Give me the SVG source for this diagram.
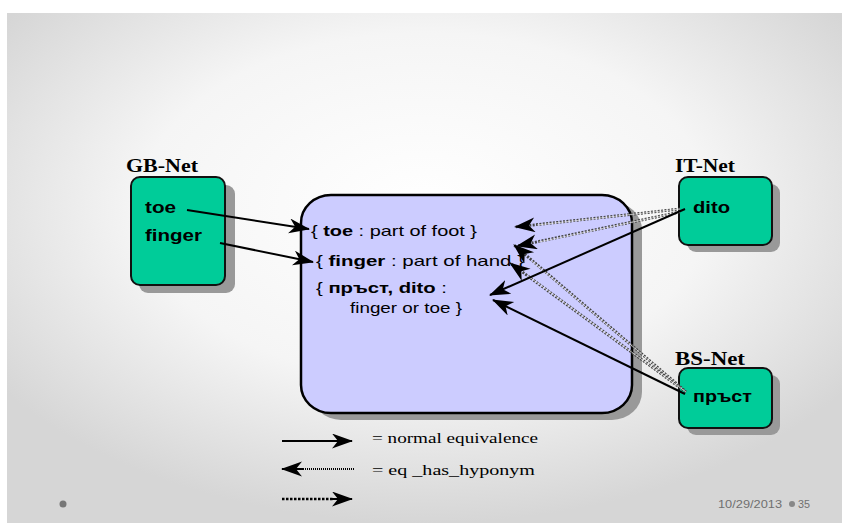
<svg xmlns="http://www.w3.org/2000/svg" width="842" height="523" viewBox="0 0 842 523">
  <defs>
    <radialGradient id="slideBg" cx="50%" cy="38%" r="62%">
      <stop offset="0" stop-color="#ffffff"/>
      <stop offset="0.55" stop-color="#f5f5f5"/>
      <stop offset="1" stop-color="#d6d6d6"/>
    </radialGradient>
    <marker id="head" markerUnits="userSpaceOnUse" markerWidth="24" markerHeight="16" refX="20" refY="7.5" orient="auto">
      <path d="M0,0 L21,7.5 L0,15 L6,7.5 Z" fill="#000"/>
    </marker>
  </defs>
  <style>
    .net { fill: #00cc99; stroke: #111; stroke-width: 2; }
    .shadow { fill: #999; }
    .netLabel { font-family: "Liberation Serif", serif; font-weight: bold; font-size: 18px; fill: #000; }
    .word { font-family: "Liberation Sans", Arial, sans-serif; font-weight: bold; font-size: 16px; fill: #000; }
    .synset { font-family: "Liberation Sans", Arial, sans-serif; font-size: 15px; fill: #000; }
    .synset .b { font-weight: bold; }
    .legend { font-family: "Liberation Serif", serif; font-size: 14px; fill: #000; }
    .footer { font-family: "Liberation Sans", Arial, sans-serif; font-size: 11px; fill: #707070; }
    .eq { fill: none; stroke: #000; stroke-width: 2; }
    .hypo { fill: none; stroke: #444; stroke-width: 2.8; stroke-dasharray: 2 1.4; }
    .hypoCore { fill: none; stroke: #eee; stroke-width: 0.7; }
  </style>

  <!-- slide background -->
  <rect x="0" y="0" width="842" height="523" fill="#ffffff"/>
  <rect x="7" y="13" width="835" height="510" fill="url(#slideBg)"/>

  <!-- central synset container -->
  <g id="synsets">
    <rect class="shadow" x="311" y="202" width="331" height="218" rx="30" ry="28"/>
    <rect x="301" y="195" width="331" height="218" rx="30" ry="28" fill="#ccccff" stroke="#000" stroke-width="2.5"/>
    <text class="synset" x="311" y="236" textLength="166" lengthAdjust="spacingAndGlyphs">{ <tspan class="b">toe</tspan> : part of foot }</text>
    <text class="synset" x="316" y="266" textLength="208" lengthAdjust="spacingAndGlyphs">{ <tspan class="b">finger</tspan>  : part of hand }</text>
    <text class="synset" x="316" y="293" textLength="131" lengthAdjust="spacingAndGlyphs">{ <tspan class="b">пръст, dito</tspan> :</text>
    <text class="synset" x="350" y="313" textLength="112" lengthAdjust="spacingAndGlyphs">finger or toe }</text>
  </g>

  <!-- GB-Net -->
  <g id="gb-net">
    <text class="netLabel" x="126" y="172" textLength="72" lengthAdjust="spacingAndGlyphs">GB-Net</text>
    <rect class="shadow" x="139" y="185" width="96" height="108" rx="9"/>
    <rect class="net" x="131" y="177" width="94" height="108" rx="9"/>
    <text class="word" x="145" y="213" textLength="31" lengthAdjust="spacingAndGlyphs">toe</text>
    <text class="word" x="145" y="241" textLength="57" lengthAdjust="spacingAndGlyphs">finger</text>
  </g>

  <!-- IT-Net -->
  <g id="it-net">
    <text class="netLabel" x="675" y="172" textLength="60" lengthAdjust="spacingAndGlyphs">IT-Net</text>
    <rect class="shadow" x="687" y="184" width="93" height="68" rx="9"/>
    <rect class="net" x="679" y="177" width="93" height="68" rx="9"/>
    <text class="word" x="693" y="213" textLength="37" lengthAdjust="spacingAndGlyphs">dito</text>
  </g>

  <!-- BS-Net -->
  <g id="bs-net">
    <text class="netLabel" x="675" y="365" textLength="70" lengthAdjust="spacingAndGlyphs">BS-Net</text>
    <rect class="shadow" x="687" y="375" width="93" height="60" rx="9"/>
    <rect class="net" x="679" y="368" width="93" height="60" rx="9"/>
    <text class="word" x="693" y="402" textLength="59" lengthAdjust="spacingAndGlyphs">пръст</text>
  </g>

  <!-- connectors -->
  <g id="connectors">
    <!-- eq_has_hyponym links -->
    <path class="hypo" d="M680,209 L515,227" marker-end="url(#head)"/>
    <path class="hypoCore" d="M680,209 L537,225"/>
    <path class="hypo" d="M680,212 L517,246" marker-end="url(#head)"/>
    <path class="hypoCore" d="M680,212 L539,242"/>
    <path class="hypo" d="M684,390 L514,245" marker-end="url(#head)"/>
    <path class="hypoCore" d="M684,390 L532,261"/>
    <path class="hypo" d="M686,392 L510,263" marker-end="url(#head)"/>
    <path class="hypoCore" d="M686,392 L528,276"/>

    <!-- normal equivalence links -->
    <path class="eq" d="M187,210 L309,229" marker-end="url(#head)"/>
    <path class="eq" d="M220,243 L313,262" marker-end="url(#head)"/>
    <path class="eq" d="M685,209 L490,295" marker-end="url(#head)"/>
    <path class="eq" d="M685,394 L493,300" marker-end="url(#head)"/>
  </g>

  <!-- legend -->
  <g id="legend">
    <path class="eq" d="M282,441 L352,441" marker-end="url(#head)"/>
    <text class="legend" x="372" y="443" textLength="166" lengthAdjust="spacingAndGlyphs">= normal equivalence</text>
    <path d="M354,469 L298,469" fill="none" stroke="#000" stroke-width="2" stroke-dasharray="1 1"/>
    <path d="M303,469 L282,469" class="eq" stroke-width="1" marker-end="url(#head)"/>
    <text class="legend" x="372" y="475" textLength="163" lengthAdjust="spacingAndGlyphs">=  eq _has_hyponym</text>
    <path d="M282,499 L334,499" fill="none" stroke="#000" stroke-width="2.5" stroke-dasharray="2.5 1.5"/>
    <path d="M330,499 L352,499" class="eq" stroke-width="1" marker-end="url(#head)"/>
  </g>

  <!-- footer -->
  <g id="footer">
    <circle cx="63" cy="504" r="3.5" fill="#777"/>
    <text class="footer" x="718" y="508" textLength="64" lengthAdjust="spacingAndGlyphs">10/29/2013</text>
    <circle cx="792" cy="504" r="3" fill="#888"/>
    <text class="footer" x="798" y="508" textLength="12" lengthAdjust="spacingAndGlyphs">35</text>
  </g>
</svg>
